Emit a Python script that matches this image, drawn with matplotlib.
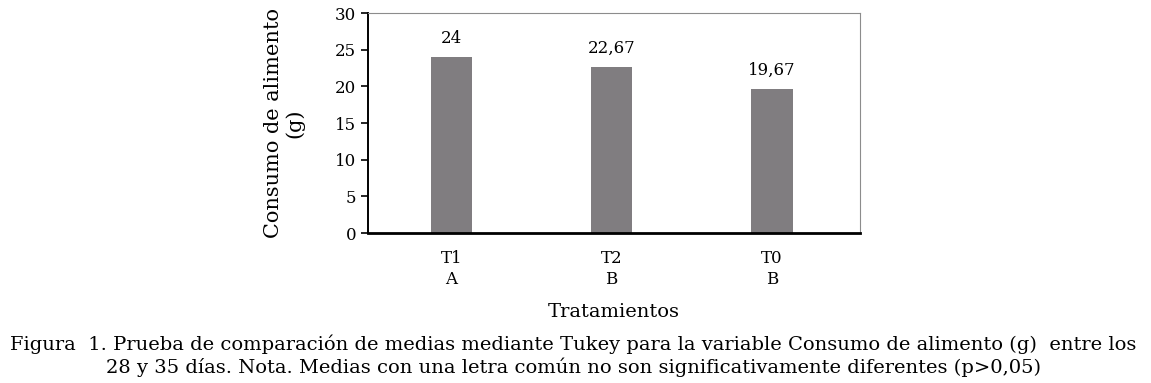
import matplotlib
matplotlib.use("Agg")
import matplotlib.pyplot as plt
import numpy as np

tratamientos = ["T1", "T2", "T0"]
letras = ["A", "B", "B"]
consumo = [24, 22.67, 19.67]
etiquetas = ["24", "22,67", "19,67"]

plt.rcParams['font.family'] = ['DejaVu Serif']

fig = plt.figure(figsize=(11.51, 3.83), dpi=100)
ax = fig.add_axes([368/1151, 1 - 233/383, (860-368)/1151, (233-13)/383])

x = np.arange(len(tratamientos))
bars = ax.bar(x, consumo, width=0.26, color="#807d80", zorder=2)
for xi, v, lab in zip(x, consumo, etiquetas):
    ax.annotate(lab, xy=(xi, v), xytext=(0, 7), textcoords='offset points',
                ha='center', va='bottom', fontsize=12)

ax.set_xlim(-0.52, 2.55)
ax.set_ylim(0, 30)
ax.set_yticks(range(0, 31, 5))
ax.set_xticks(x)
ax.set_xticklabels([f"{t}\n{l}" for t, l in zip(tratamientos, letras)], fontsize=12, linespacing=1.3)
ax.tick_params(axis='x', length=0, pad=12)
ax.tick_params(axis='y', labelsize=12, length=5, width=1.2, direction='out')

for s in ['top', 'right']:
    ax.spines[s].set_color('#8c8c8c')
    ax.spines[s].set_linewidth(0.8)
ax.spines['left'].set_linewidth(1.4)
ax.spines['bottom'].set_linewidth(2)

ax.set_ylabel("Consumo de alimento\n(g)", fontsize=15, labelpad=22, linespacing=1.1)
fig.text(614/1151, 1 - 312/383, "Tratamientos", ha='center', va='center', fontsize=14)

cap = ("Figura  1. Prueba de comparación de medias mediante Tukey para la variable Consumo de alimento (g)  entre los\n"
       "28 y 35 días. Nota. Medias con una letra común no son significativamente diferentes (p>0,05)")
fig.text(573/1151, 1 - 356/383, cap, ha='center', va='center', fontsize=14,
         linespacing=1.2)

fig.savefig("out.png", dpi=100)
